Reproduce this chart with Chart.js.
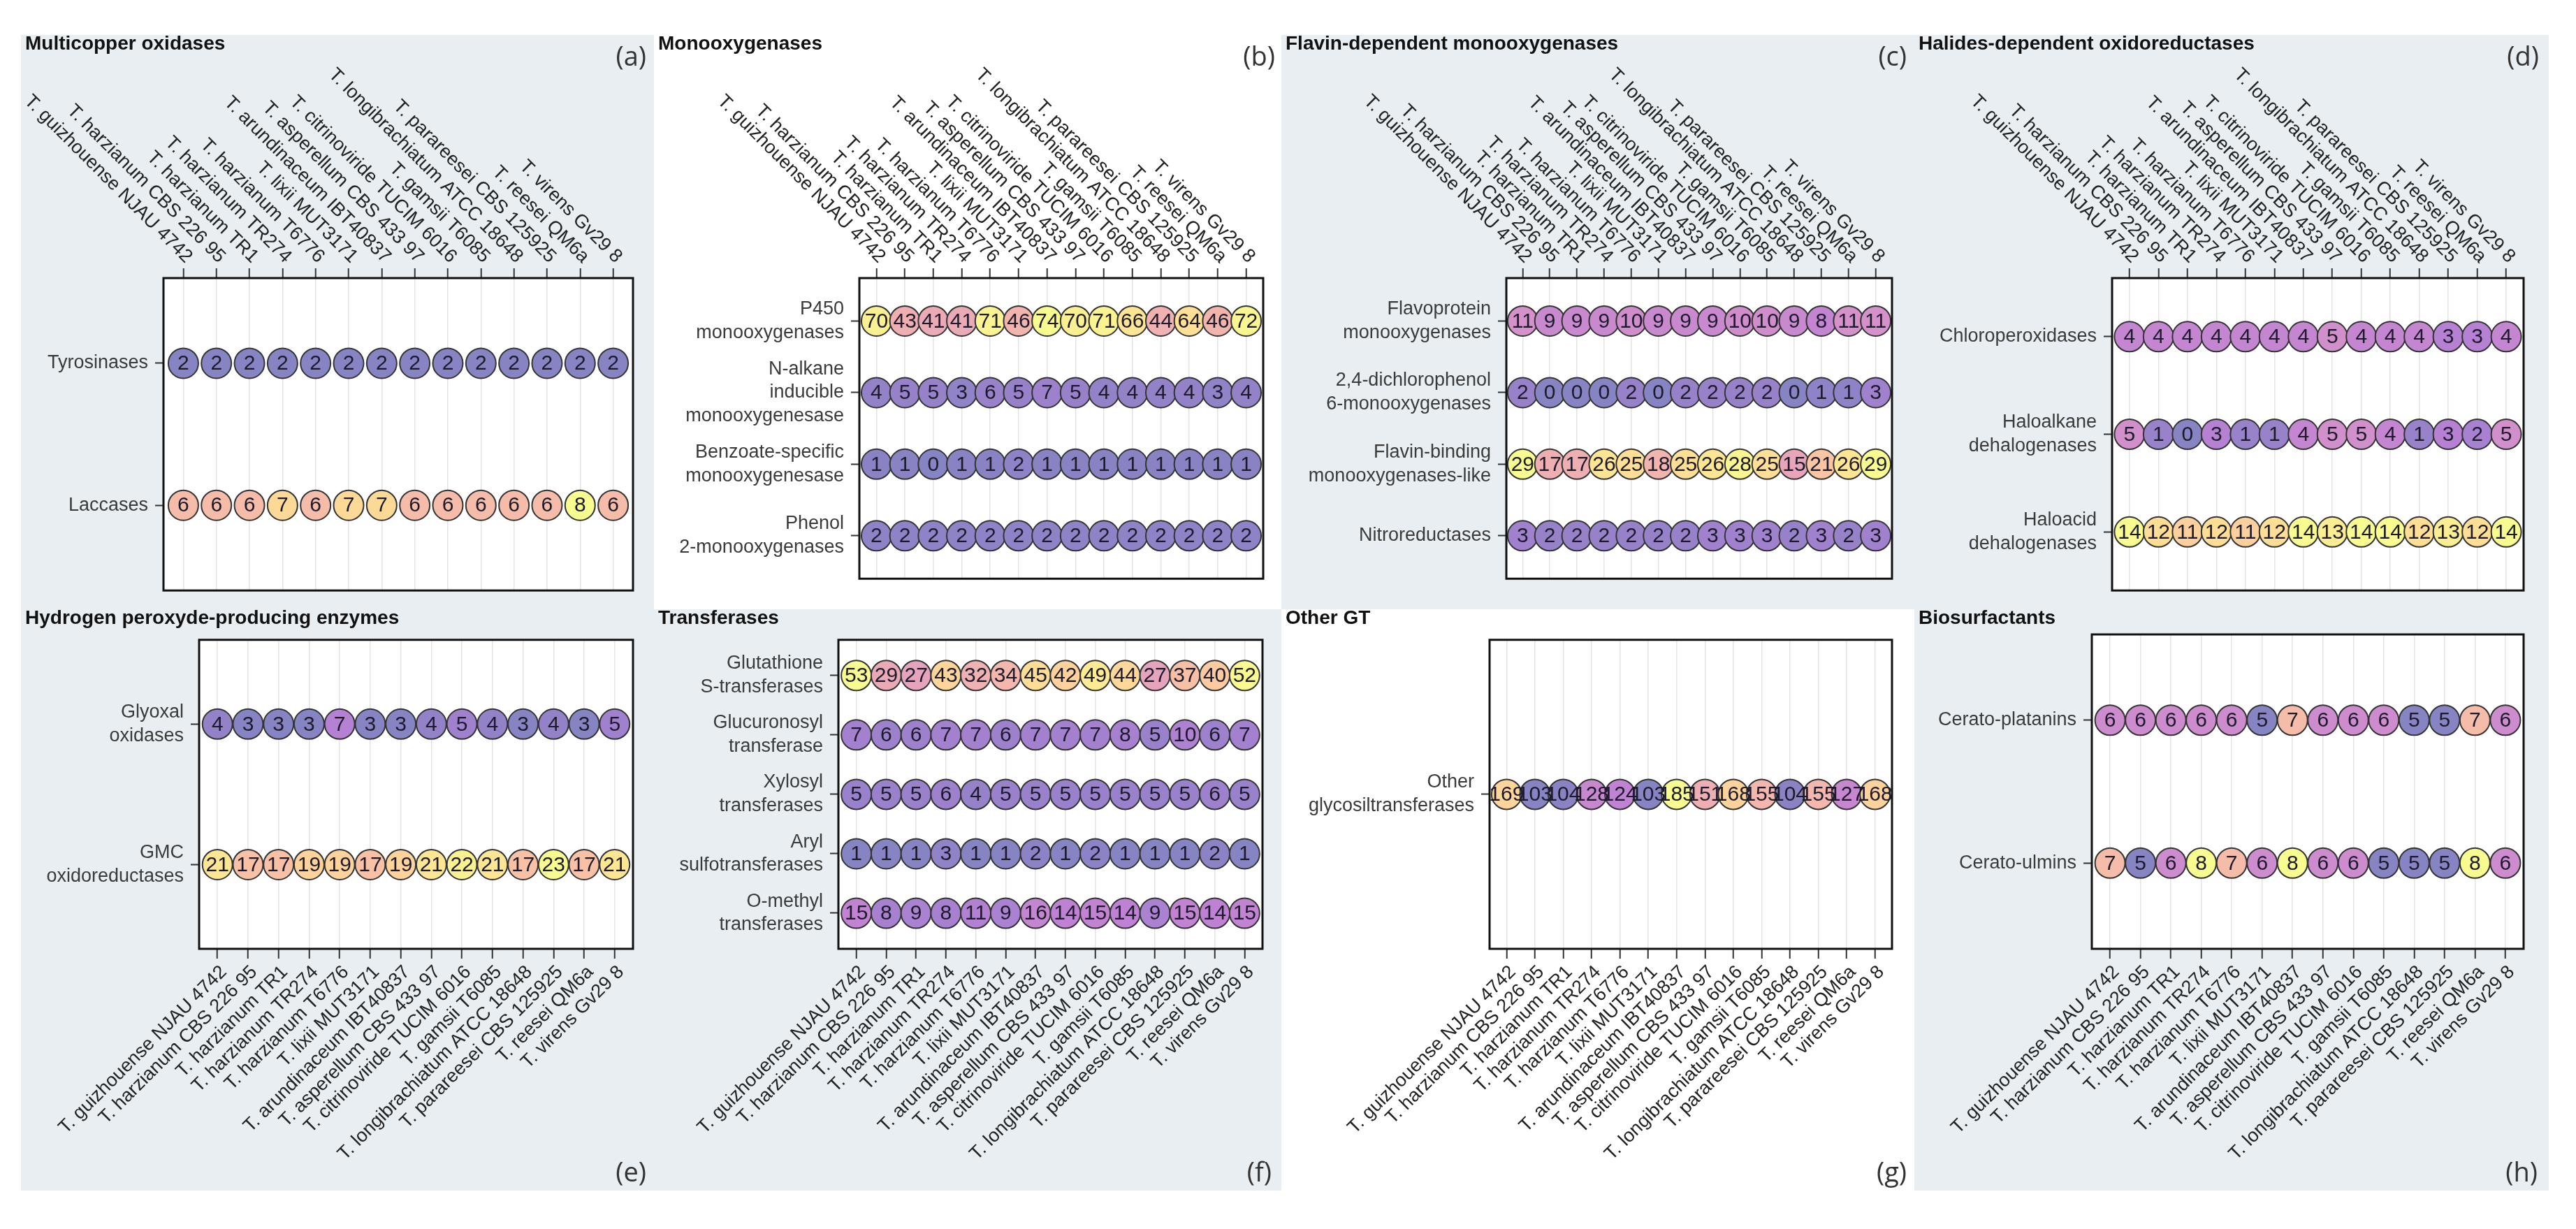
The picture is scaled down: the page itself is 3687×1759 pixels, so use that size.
<!DOCTYPE html>
<html>
<head>
<meta charset="utf-8">
<script src="https://cdn.jsdelivr.net/npm/chart.js@4.4.1/dist/chart.umd.min.js"></script>
<style>
  body { margin: 0; background: #fff; width: 3687px; height: 1759px; position: relative; overflow: hidden; font-family: 'Liberation Sans', Arial, sans-serif; }
  .panel { position: absolute; }
  .panel canvas { position: absolute; left: 0; top: 0; }
  .title { position: absolute; font-weight: bold; font-size: 28px; line-height: 28px; color: #111; white-space: nowrap; z-index: 2; }
  .tag { position: absolute; font-family: 'Open Sans', sans-serif; font-size: 38px; line-height: 38px; color: #333; z-index: 2; }
</style>
</head>
<body>
<script>
// strains (columns), same order in every panel
const strains = ['T. guizhouense NJAU 4742', 'T. harzianum CBS 226 95', 'T. harzianum TR1', 'T. harzianum TR274',
  'T. harzianum T6776', 'T. lixii MUT3171', 'T. arundinaceum IBT40837', 'T. asperellum CBS 433 97',
  'T. citrinoviride TUCIM 6016', 'T. gamsii T6085', 'T. longibrachiatum ATCC 18648', 'T. parareesei CBS 125925',
  'T. reesei QM6a', 'T. virens Gv29 8'];

// (a) Multicopper oxidases
const rowsA = ['Tyrosinases', 'Laccases'];
const tyrosinases = [2, 2, 2, 2, 2, 2, 2, 2, 2, 2, 2, 2, 2, 2];
const laccases = [6, 6, 6, 7, 6, 7, 7, 6, 6, 6, 6, 6, 8, 6];

// (b) Monooxygenases
const rowsB = ['P450\nmonooxygenases', 'N-alkane\ninducible\nmonooxygenesase', 'Benzoate-specific\nmonooxygenesase', 'Phenol\n2-monooxygenases'];
const p450 = [70, 43, 41, 41, 71, 46, 74, 70, 71, 66, 44, 64, 46, 72];
const nAlkane = [4, 5, 5, 3, 6, 5, 7, 5, 4, 4, 4, 4, 3, 4];
const benzoate = [1, 1, 0, 1, 1, 2, 1, 1, 1, 1, 1, 1, 1, 1];
const phenol = [2, 2, 2, 2, 2, 2, 2, 2, 2, 2, 2, 2, 2, 2];

// (c) Flavin-dependent monooxygenases
const rowsC = ['Flavoprotein\nmonooxygenases', '2,4-dichlorophenol\n6-monooxygenases', 'Flavin-binding\nmonooxygenases-like', 'Nitroreductases'];
const flavoprotein = [11, 9, 9, 9, 10, 9, 9, 9, 10, 10, 9, 8, 11, 11];
const dichlorophenol = [2, 0, 0, 0, 2, 0, 2, 2, 2, 2, 0, 1, 1, 3];
const flavinBinding = [29, 17, 17, 26, 25, 18, 25, 26, 28, 25, 15, 21, 26, 29];
const nitroreductases = [3, 2, 2, 2, 2, 2, 2, 3, 3, 3, 2, 3, 2, 3];

// (d) Halides-dependent oxidoreductases
const rowsD = ['Chloroperoxidases', 'Haloalkane\ndehalogenases', 'Haloacid\ndehalogenases'];
const chloroperoxidases = [4, 4, 4, 4, 4, 4, 4, 5, 4, 4, 4, 3, 3, 4];
const haloalkane = [5, 1, 0, 3, 1, 1, 4, 5, 5, 4, 1, 3, 2, 5];
const haloacid = [14, 12, 11, 12, 11, 12, 14, 13, 14, 14, 12, 13, 12, 14];

// (e) Hydrogen peroxyde-producing enzymes
const rowsE = ['Glyoxal\noxidases', 'GMC\noxidoreductases'];
const glyoxal = [4, 3, 3, 3, 7, 3, 3, 4, 5, 4, 3, 4, 3, 5];
const gmc = [21, 17, 17, 19, 19, 17, 19, 21, 22, 21, 17, 23, 17, 21];

// (f) Transferases
const rowsF = ['Glutathione\nS-transferases', 'Glucuronosyl\ntransferase', 'Xylosyl\ntransferases', 'Aryl\nsulfotransferases', 'O-methyl\ntransferases'];
const glutathione = [53, 29, 27, 43, 32, 34, 45, 42, 49, 44, 27, 37, 40, 52];
const glucuronosyl = [7, 6, 6, 7, 7, 6, 7, 7, 7, 8, 5, 10, 6, 7];
const xylosyl = [5, 5, 5, 6, 4, 5, 5, 5, 5, 5, 5, 5, 6, 5];
const arylSulfo = [1, 1, 1, 3, 1, 1, 2, 1, 2, 1, 1, 1, 2, 1];
const oMethyl = [15, 8, 9, 8, 11, 9, 16, 14, 15, 14, 9, 15, 14, 15];

// (g) Other GT
const rowsG = ['Other\nglycosiltransferases'];
const otherGT = [169, 103, 104, 128, 124, 103, 185, 151, 168, 155, 104, 155, 127, 168];

// (h) Biosurfactants
const rowsH = ['Cerato-platanins', 'Cerato-ulmins'];
const ceratoPlatanins = [6, 6, 6, 6, 6, 5, 7, 6, 6, 6, 5, 5, 7, 6];
const ceratoUlmins = [7, 5, 6, 8, 7, 6, 8, 6, 6, 5, 5, 5, 8, 6];

// plasma colour stops, drawn at half opacity over white
const plasmaStops = [[13, 8, 135], [76, 2, 161], [126, 3, 168], [169, 35, 149], [204, 71, 120],
  [229, 107, 93], [248, 148, 65], [253, 195, 40], [240, 249, 33]];

function plasmaColor(t) {
  t = Math.max(0, Math.min(1, t));
  const p = t * (plasmaStops.length - 1);
  const i = Math.min(Math.floor(p), plasmaStops.length - 2);
  const f = p - i;
  const c = plasmaStops[i].map((v, k) => v + (plasmaStops[i + 1][k] - v) * f);
  return `rgb(${c.map(v => Math.round((v + 255) / 2)).join(',')})`;
}

const BLUE = '#e8eef2';
const WHITE = '#ffffff';

// panel frame, plot box [x1, y1, x2, y2] in page pixels
const panels = [
  { title: 'Multicopper oxidases', tag: '(a)', rows: rowsA, series: [tyrosinases, laccases], axis: 'top',
    x: 30, y: 50, w: 906, h: 822, bg: BLUE, box: [234, 398, 906, 847], tagRight: 925 },
  { title: 'Monooxygenases', tag: '(b)', rows: rowsB, series: [p450, nAlkane, benzoate, phenol], axis: 'top',
    x: 936, y: 50, w: 898, h: 822, bg: WHITE, box: [1230, 398, 1808, 847], tagRight: 1825 },
  { title: 'Flavin-dependent monooxygenases', tag: '(c)', rows: rowsC, series: [flavoprotein, dichlorophenol, flavinBinding, nitroreductases], axis: 'top',
    x: 1834, y: 50, w: 906, h: 822, bg: BLUE, box: [2156, 398, 2708, 847], tagRight: 2729 },
  { title: 'Halides-dependent oxidoreductases', tag: '(d)', rows: rowsD, series: [chloroperoxidases, haloalkane, haloacid], axis: 'top',
    x: 2740, y: 50, w: 908, h: 822, bg: BLUE, box: [3023, 398, 3612, 847], tagRight: 3634 },
  { title: 'Hydrogen peroxyde-producing enzymes', tag: '(e)', rows: rowsE, series: [glyoxal, gmc], axis: 'bottom',
    x: 30, y: 872, w: 906, h: 832, bg: BLUE, box: [285, 908, 906, 1358], tagRight: 925 },
  { title: 'Transferases', tag: '(f)', rows: rowsF, series: [glutathione, glucuronosyl, xylosyl, arylSulfo, oMethyl], axis: 'bottom',
    x: 936, y: 872, w: 898, h: 832, bg: BLUE, box: [1200, 908, 1807, 1358], tagRight: 1820 },
  { title: 'Other GT', tag: '(g)', rows: rowsG, series: [otherGT], axis: 'bottom',
    x: 1834, y: 872, w: 906, h: 832, bg: WHITE, box: [2132, 908, 2708, 1358], tagRight: 2729 },
  { title: 'Biosurfactants', tag: '(h)', rows: rowsH, series: [ceratoPlatanins, ceratoUlmins], axis: 'bottom',
    x: 2740, y: 872, w: 908, h: 832, bg: BLUE, box: [2994, 908, 3612, 1358], tagRight: 3632 }
];

const framePlugin = {
  id: 'frame',
  beforeDraw(chart) {
    const a = chart.chartArea, ctx = chart.ctx;
    ctx.save();
    ctx.fillStyle = '#fff';
    ctx.fillRect(a.left, a.top, a.right - a.left, a.bottom - a.top);
    ctx.restore();
  },
  afterDatasetsDraw(chart) {
    const a = chart.chartArea, ctx = chart.ctx;
    ctx.save();
    ctx.strokeStyle = '#111';
    ctx.lineWidth = 3;
    ctx.strokeRect(a.left, a.top, a.right - a.left, a.bottom - a.top);
    ctx.restore();
  }
};

const valuePlugin = {
  id: 'values',
  afterDatasetsDraw(chart) {
    const ctx = chart.ctx;
    const ds = chart.data.datasets[0];
    ctx.save();
    ctx.font = '30px "Liberation Sans"';
    ctx.fillStyle = '#1d1b2b';
    ctx.textAlign = 'center';
    ctx.textBaseline = 'middle';
    chart.getDatasetMeta(0).data.forEach((el, i) => {
      ctx.fillText(String(ds.data[i].v), el.x, el.y + 1);
    });
    ctx.restore();
  }
};

const strainLabelPlugin = {
  id: 'strainLabels',
  afterDraw(chart) {
    const ctx = chart.ctx, xs = chart.scales.x, a = chart.chartArea;
    const top = xs.options.position === 'top';
    ctx.save();
    ctx.font = '27px "Liberation Sans"';
    ctx.fillStyle = '#222';
    ctx.textAlign = 'right';
    ctx.textBaseline = 'middle';
    strains.forEach((s, i) => {
      const px = xs.getPixelForValue(i);
      ctx.save();
      if (top) {
        ctx.translate(px + 8, a.top - 14 - 12);
        ctx.rotate(Math.PI / 4);
      } else {
        ctx.translate(px + 9, a.bottom + 14 + 15);
        ctx.rotate(-Math.PI / 4);
      }
      ctx.fillText(s, 0, 0);
      ctx.restore();
    });
    ctx.restore();
  }
};

function makePanel(p) {
  const div = document.createElement('div');
  div.className = 'panel';
  Object.assign(div.style, { left: p.x + 'px', top: p.y + 'px', width: p.w + 'px', height: p.h + 'px', background: p.bg });
  document.body.appendChild(div);

  const cv = document.createElement('canvas');
  cv.width = p.w; cv.height = p.h;
  cv.style.width = p.w + 'px'; cv.style.height = p.h + 'px';
  div.appendChild(cv);

  const t = document.createElement('div');
  t.className = 'title';
  t.textContent = p.title;
  t.style.left = (p.x + 6) + 'px';
  t.style.top = (p.y - 2) + 'px';
  document.body.appendChild(t);

  const g = document.createElement('div');
  g.className = 'tag';
  g.textContent = p.tag;
  g.style.right = (3687 - p.tagRight) + 'px';
  g.style.top = (p.axis === 'top' ? 60 : 1657) + 'px';
  document.body.appendChild(g);

  const all = p.series.flat();
  const lo = Math.min(...all), hi = Math.max(...all);
  const pts = [], cols = [];
  p.series.forEach((row, r) => row.forEach((v, i) => {
    pts.push({ x: i, y: r, v });
    cols.push(plasmaColor(hi > lo ? (v - lo) / (hi - lo) : 0));
  }));

  const top = p.axis === 'top';
  const b = p.box;

  new Chart(cv, {
    type: 'scatter',
    data: {
      datasets: [{
        data: pts,
        pointRadius: 21.5,
        pointHoverRadius: 21.5,
        pointBackgroundColor: cols,
        pointBorderColor: '#343434',
        pointBorderWidth: 2,
        clip: false
      }]
    },
    options: {
      responsive: false,
      animation: false,
      events: [],
      layout: {
        padding: {
          left: 0,
          right: p.x + p.w - b[2],
          top: top ? 0 : b[1] - p.y,
          bottom: top ? p.y + p.h - b[3] : 0
        }
      },
      plugins: { legend: { display: false }, tooltip: { enabled: false } },
      scales: {
        x: {
          type: 'linear',
          position: p.axis,
          min: -0.6,
          max: strains.length - 0.4,
          afterBuildTicks: s => { s.ticks = strains.map((_, i) => ({ value: i })); },
          afterFit: s => { s.height = top ? b[1] - p.y : p.y + p.h - b[3]; },
          grid: { color: '#e4e4e4', lineWidth: 1.5, drawTicks: true, tickLength: 14, tickColor: '#333', tickWidth: 2 },
          border: { display: false },
          ticks: { display: false }
        },
        y: {
          type: 'linear',
          reverse: true,
          min: -0.6,
          max: p.rows.length - 0.4,
          afterBuildTicks: s => { s.ticks = p.rows.map((_, i) => ({ value: i })); },
          afterFit: s => { s.width = b[0] - p.x; },
          grid: { drawOnChartArea: false, drawTicks: true, tickLength: 12, tickColor: '#333', tickWidth: 2 },
          border: { display: false },
          ticks: {
            autoSkip: false,
            padding: 10,
            color: '#3a3a3a',
            font: { family: 'Liberation Sans', size: 27, lineHeight: 1.25 },
            callback: v => p.rows[v].split('\n')
          }
        }
      }
    },
    plugins: [framePlugin, valuePlugin, strainLabelPlugin]
  });
}

panels.forEach(makePanel);
</script>
</body>
</html>
